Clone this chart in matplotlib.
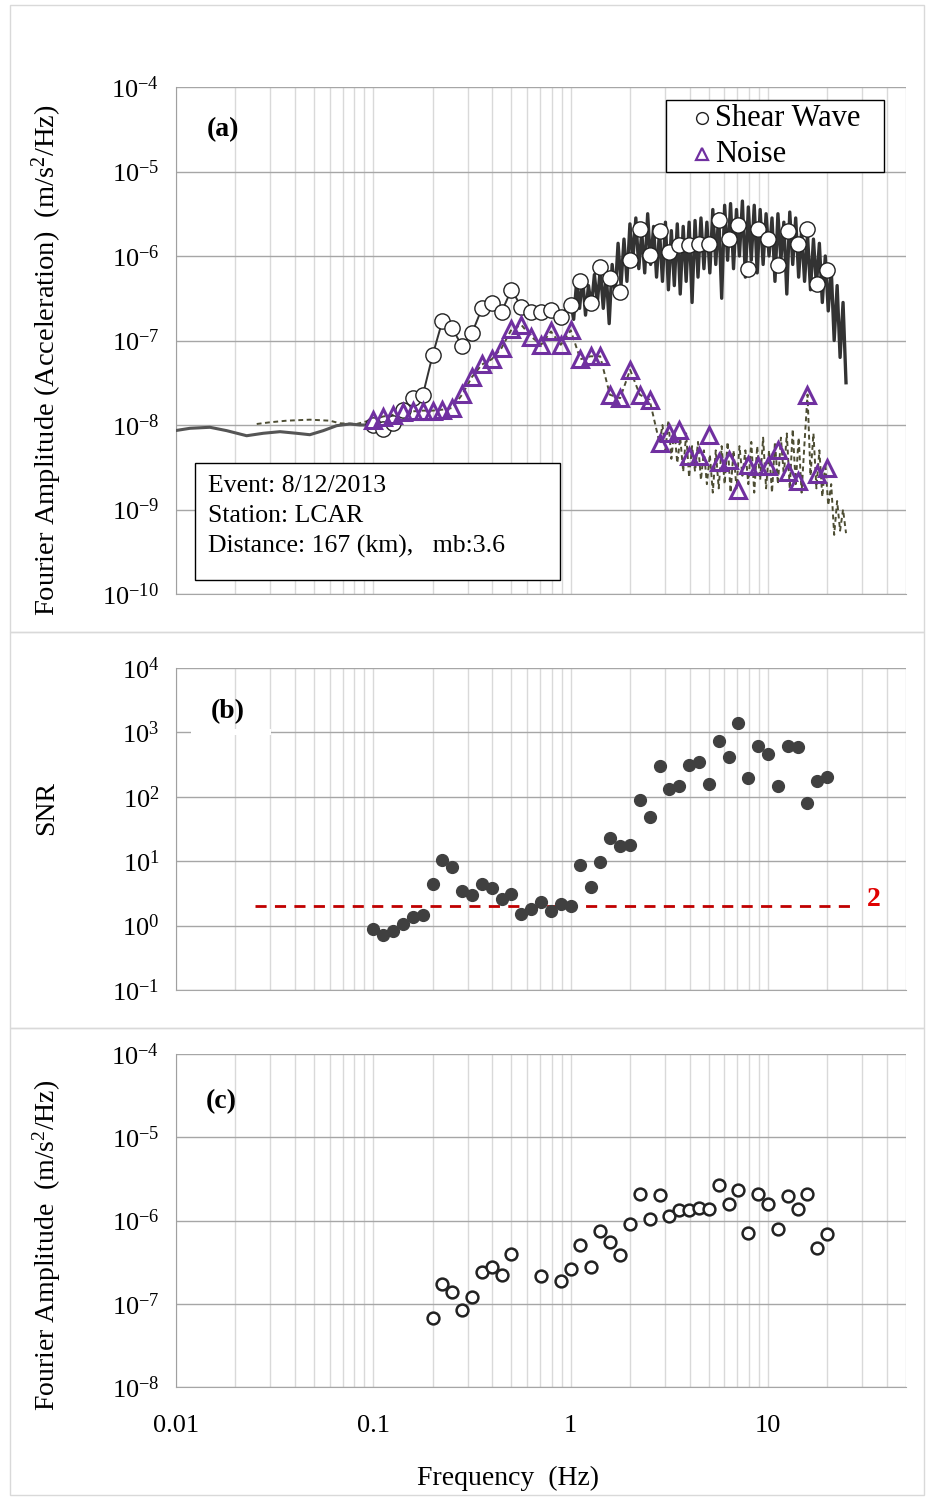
import numpy as np
import matplotlib.pyplot as plt
from matplotlib.patches import Rectangle
from matplotlib.ticker import FixedLocator, FuncFormatter, NullFormatter

plt.rcParams['font.family'] = 'Liberation Serif'
plt.rcParams['mathtext.fontset'] = 'custom'
plt.rcParams['mathtext.rm'] = 'Liberation Serif'
plt.rcParams['mathtext.it'] = 'Liberation Serif:italic'
plt.rcParams['mathtext.bf'] = 'Liberation Serif:bold'

# smoothed points (Hz)
freq = [0.100, 0.112, 0.126, 0.141, 0.158, 0.178, 0.200, 0.224, 0.251, 0.282,
        0.316, 0.355, 0.398, 0.447, 0.501, 0.562, 0.631, 0.708, 0.794, 0.891,
        1.00, 1.12, 1.26, 1.41, 1.58, 1.78, 2.00, 2.24, 2.51, 2.82,
        3.16, 3.55, 3.98, 4.47, 5.01, 5.62, 6.31, 7.08, 7.94, 8.91,
        10.0, 11.2, 12.6, 14.1, 15.8, 17.8, 20.0]
shear = [1.0e-8, 9.0e-9, 1.05e-8, 1.5e-8, 2.1e-8, 2.25e-8, 6.8e-8, 1.72e-7, 1.40e-7, 8.5e-8,
         1.22e-7, 2.4e-7, 2.75e-7, 2.2e-7, 4.0e-7, 2.5e-7, 2.2e-7, 2.15e-7, 2.3e-7, 1.9e-7,
         2.6e-7, 5.1e-7, 2.8e-7, 7.5e-7, 5.5e-7, 3.8e-7, 9.0e-7, 2.1e-6, 1.03e-6, 2.0e-6,
         1.12e-6, 1.35e-6, 1.35e-6, 1.4e-6, 1.37e-6, 2.65e-6, 1.6e-6, 2.3e-6, 7.0e-7, 2.1e-6,
         1.6e-6, 7.8e-7, 1.95e-6, 1.37e-6, 2.1e-6, 4.7e-7, 6.8e-7]
noise = [1.16e-8, 1.26e-8, 1.32e-8, 1.43e-8, 1.45e-8, 1.48e-8, 1.48e-8, 1.52e-8, 1.59e-8, 2.3e-8,
         3.7e-8, 5.2e-8, 6.0e-8, 8.2e-8, 1.35e-7, 1.53e-7, 1.11e-7, 8.9e-8, 1.28e-7, 8.9e-8,
         1.32e-7, 6.0e-8, 6.5e-8, 6.5e-8, 2.28e-8, 2.08e-8, 4.5e-8, 2.28e-8, 1.99e-8, 6.1e-9,
         8.0e-9, 8.8e-9, 4.3e-9, 4.3e-9, 7.7e-9, 3.6e-9, 3.9e-9, 1.72e-9, 3.4e-9, 3.25e-9,
         3.25e-9, 5.1e-9, 2.76e-9, 2.16e-9, 2.28e-8, 2.6e-9, 3.1e-9]
snr = [0.88, 0.72, 0.83, 1.05, 1.38, 1.46, 4.5, 10.4, 8.2, 3.4,
       3.0, 4.4, 3.8, 2.6, 3.1, 1.5, 1.8, 2.35, 1.7, 2.2,
       2.05, 8.7, 4.0, 9.8, 23, 17, 18, 88, 48, 305,
       133, 145, 313, 344, 159, 743, 410, 1377, 194, 608,
       462, 145, 622, 593, 80, 179, 201]
snr_limit = 2

# raw spectra, read in log10 units
low_logf = [-2.005, -1.929, -1.828, -1.743, -1.642, -1.558, -1.473, -1.389, -1.322, -1.254, -1.186, -1.119, -1.068]
low_shear_log = [-8.067, -8.039, -8.027, -8.067, -8.127, -8.098, -8.079, -8.098, -8.115, -8.067, -8.008, -7.988, -8.000]
low_noise_logf = [-1.591, -1.524, -1.440, -1.322, -1.220, -1.170, -1.085]
low_noise_log = [-7.988, -7.968, -7.949, -7.937, -7.949, -7.980, -7.988]

hi_logf = [0.000, 0.015, 0.030, 0.045, 0.060, 0.075, 0.090, 0.105, 0.120, 0.135,
           0.150, 0.165, 0.180, 0.195, 0.210, 0.225, 0.240, 0.255, 0.270, 0.285,
           0.300, 0.315, 0.330, 0.345, 0.360, 0.375, 0.390, 0.405, 0.420, 0.435,
           0.450, 0.465, 0.480, 0.495, 0.510, 0.525, 0.540, 0.555, 0.570, 0.585,
           0.600, 0.615, 0.630, 0.645, 0.660, 0.675, 0.690, 0.705, 0.720, 0.735,
           0.750, 0.765, 0.780, 0.795, 0.810, 0.825, 0.840, 0.855, 0.870, 0.885,
           0.900, 0.915, 0.930, 0.945, 0.960, 0.975, 0.990, 1.005, 1.020, 1.035,
           1.050, 1.065, 1.080, 1.095, 1.110, 1.125, 1.140, 1.155, 1.170, 1.185,
           1.200, 1.215, 1.230, 1.245, 1.260, 1.275, 1.290, 1.305, 1.320, 1.335,
           1.350, 1.365, 1.380, 1.395]
hi_shear_log = [-6.55, -6.75, -6.30, -6.62, -6.25, -6.70, -6.35, -6.60, -6.22, -6.55,
                -6.15, -6.62, -6.20, -6.80, -6.10, -6.45, -5.85, -6.35, -5.80, -6.30,
                -5.62, -6.05, -5.55, -6.15, -5.72, -6.20, -5.50, -6.10, -5.65, -6.25,
                -5.70, -6.30, -5.60, -6.40, -5.70, -6.35, -5.62, -6.45, -5.65, -6.30,
                -5.60, -6.55, -5.58, -6.25, -5.55, -6.15, -5.60, -6.20, -5.45, -6.10,
                -5.50, -6.50, -5.40, -6.05, -5.38, -6.15, -5.45, -6.00, -5.35, -6.25,
                -5.42, -6.05, -5.40, -6.20, -5.45, -6.10, -5.50, -6.00, -5.55, -6.30,
                -5.50, -6.05, -5.60, -6.45, -5.48, -6.10, -5.55, -6.25, -5.70, -6.30,
                -5.75, -6.40, -5.80, -6.35, -5.85, -6.55, -6.00, -6.65, -6.15, -7.00,
                -6.35, -7.20, -6.55, -7.50]
# noise raw spectrum above 2.9 Hz (same frequencies as hi_logf[31:])
hi_noise_log = [-8.00, -8.30, -7.95, -8.40, -8.05, -8.45, -8.15, -8.55, -8.10,
                -8.62, -8.25, -8.55, -8.20, -8.65, -8.30, -8.70, -8.35, -8.80, -8.30,
                -8.75, -8.25, -8.70, -8.20, -8.80, -8.30, -8.75, -8.25, -8.60, -8.30,
                -8.70, -8.20, -8.80, -8.25, -8.65, -8.15, -8.75, -8.30, -8.80, -8.20,
                -8.70, -8.15, -8.60, -8.10, -8.75, -8.05, -8.70, -8.15, -8.80, -8.20,
                -7.64, -8.60, -8.10, -8.75, -8.30, -8.85, -8.45, -8.95, -8.70, -9.30,
                -8.90, -9.25, -9.00, -9.28]

x_major = [0.01, 0.1, 1, 10]
x_minor = [m * d for d in [0.01, 0.1, 1, 10] for m in range(2, 10) if m * d <= 50]
x_labels = ['0.01', '0.1', '1', '10']

W, H = 926, 1498
fig = plt.figure(figsize=(W / 100, H / 100), dpi=100)


def fx(px):
    return px / W


def fy(py):
    return 1 - py / H


def panel(top, bottom, ylo, yhi):
    ax = fig.add_axes([fx(176), fy(bottom), fx(906) - fx(176), (bottom - top) / H])
    ax.set_xscale('log')
    ax.set_yscale('log')
    ax.set_xlim(0.01, 50)
    ax.set_ylim(10.0 ** ylo, 10.0 ** yhi)
    ax.xaxis.set_major_locator(FixedLocator(x_major))
    ax.xaxis.set_minor_locator(FixedLocator(x_minor))
    ax.yaxis.set_major_locator(FixedLocator([10.0 ** k for k in range(ylo, yhi + 1)]))
    ax.yaxis.set_minor_locator(FixedLocator([]))
    ax.grid(which='both', axis='x', color='#d9d9d9', lw=1)
    ax.grid(which='major', axis='y', color='#a6a6a6', lw=1)
    ax.set_axisbelow(True)
    for s in ['top', 'right']:
        ax.spines[s].set_visible(False)
    ax.spines['left'].set_color('#a0a0a0')
    ax.spines['bottom'].set_color('#a6a6a6')
    ax.tick_params(which='both', length=0, labelsize=19, pad=12)
    ax.yaxis.set_major_formatter(FuncFormatter(lambda v, p: r'$\mathregular{10^{%d}}$' % round(np.log10(v))))
    ax.yaxis.set_minor_formatter(NullFormatter())
    ax.xaxis.set_major_formatter(NullFormatter())
    ax.xaxis.set_minor_formatter(NullFormatter())
    return ax


# outer frames
for y0, y1 in [(5, 632), (632, 1028), (1028, 1495)]:
    fig.add_artist(Rectangle((fx(10), fy(y1)), fx(924) - fx(10), (y1 - y0) / H,
                             transform=fig.transFigure, fill=False, ec='#d9d9d9', lw=1))

# (a) spectra
ax1 = panel(87, 594, -10, -4)
nf = list(10 ** np.array(low_noise_logf)) + freq[:30] + list(10 ** np.array(hi_logf[31:]))
na = list(10 ** np.array(low_noise_log)) + noise[:30] + list(10 ** np.array(hi_noise_log))
ax1.plot(nf, na, color='#4d4d33', lw=1.4, ls=(0, (2.5, 1.8)), zorder=2)
ax1.plot(list(10 ** np.array(low_logf)) + [freq[0]], list(10 ** np.array(low_shear_log)) + [shear[0]],
         color='#555555', lw=2.2, zorder=3)
ax1.plot(freq[:20], shear[:20], color='#333333', lw=1.4, zorder=3)
ax1.plot(freq[19:20] + list(10 ** np.array(hi_logf)), shear[19:20] + list(10 ** np.array(hi_shear_log)),
         color='#333333', lw=2.4, zorder=3)
ax1.plot(freq, shear, ls='none', marker='o', ms=11, mfc='white', mec='#222222', mew=1.0, zorder=4)
ax1.plot(freq, noise, ls='none', marker='^', ms=12, mfc='none', mec='#7030a0', mew=2.2, zorder=5)

# legend box
fig.add_artist(Rectangle((fx(666), fy(172)), fx(884) - fx(666), (172 - 100) / H,
                         transform=fig.transFigure, fc='white', ec='black', lw=1.0, zorder=6))
fig.add_artist(plt.Line2D([fx(702)], [fy(118)], transform=fig.transFigure, ls='none', marker='o',
                          ms=8.5, mfc='white', mec='#222222', mew=1.0, zorder=7))
fig.add_artist(plt.Line2D([fx(702)], [fy(154)], transform=fig.transFigure, ls='none', marker='^',
                          ms=9, mfc='none', mec='#7030a0', mew=1.6, zorder=7))
fig.text(fx(715), fy(118), 'Shear Wave', fontsize=22, ha='left', va='center', zorder=7)
fig.text(fx(715), fy(154), 'Noise', fontsize=22, ha='left', va='center', zorder=7)

fig.text(fx(223), fy(130), '(a)', fontsize=20, fontweight='bold', ha='center', va='center')

fig.add_artist(Rectangle((fx(195), fy(580)), fx(560) - fx(195), (580 - 463) / H,
                         transform=fig.transFigure, fc='white', ec='black', lw=1.0, zorder=6))
for i, line in enumerate(['Event: 8/12/2013', 'Station: LCAR', 'Distance: 167 (km),   mb:3.6']):
    fig.text(fx(208), fy(486 + 30 * i), line, fontsize=18.5, ha='left', va='center', zorder=7)

# (b) SNR
ax2 = panel(668, 990, -1, 4)
ax2.plot(freq, snr, ls='none', marker='o', ms=8.5, color='#404040', zorder=4)
ax2.plot([0.025, 26], [snr_limit, snr_limit], color='#c00000', lw=2, ls=(0, (4, 3)), zorder=3)
fig.text(fx(874), fy(900), '2', color='#e00000', fontsize=20, fontweight='bold', ha='center', va='center')
fig.add_artist(Rectangle((fx(191), fy(735)), fx(271) - fx(191), 6 / H,
                         transform=fig.transFigure, fc='white', ec='none', zorder=1))
fig.text(fx(228), fy(712), '(b)', fontsize=20, fontweight='bold', ha='center', va='center', zorder=2)

# (c) selected points
ax3 = panel(1054, 1387, -8, -4)
keep = np.array(snr) > snr_limit
ax3.plot(np.array(freq)[keep], np.array(shear)[keep], ls='none', marker='o', ms=8.5,
         mfc='white', mec='#222222', mew=1.8, zorder=4)
ax3.set_xticks(x_major, x_labels)
ax3.tick_params(axis='x', pad=20)
fig.text(fx(221), fy(1102), '(c)', fontsize=20, fontweight='bold', ha='center', va='center')

# axis titles
fig.text(fx(47), fy(360), r'Fourier Amplitude (Acceleration)  (m/s$^{2}$/Hz)', fontsize=20.5,
         rotation=90, ha='center', va='center')
fig.text(fx(47), fy(808), 'SNR', fontsize=20, rotation=90, ha='center', va='center')
fig.text(fx(47), fy(1245), r'Fourier Amplitude  (m/s$^{2}$/Hz)', fontsize=20,
         rotation=90, ha='center', va='center')
fig.text(fx(508), fy(1478), 'Frequency  (Hz)', fontsize=20, ha='center', va='center')

fig.savefig('out.png', dpi=100)
